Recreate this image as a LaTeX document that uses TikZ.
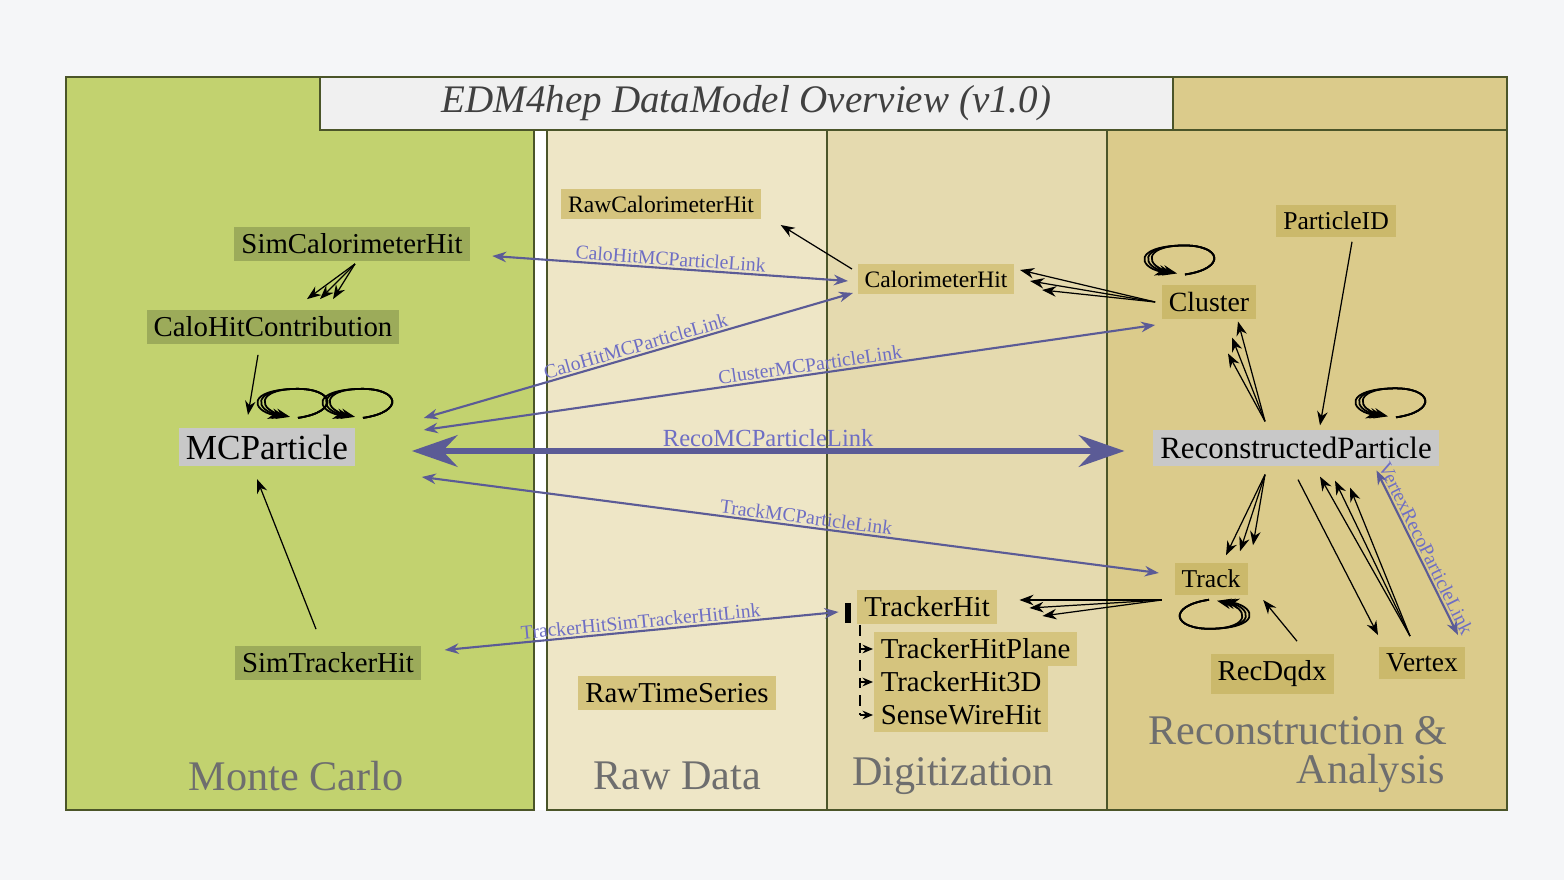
\documentclass[tikz,border=0pt]{standalone}
\usepackage{fontspec}
\setmainfont{Liberation Serif}
\usetikzlibrary{arrows.meta}
\usetikzlibrary{calc}
\usetikzlibrary{positioning}
\definecolor{pagebg}{HTML}{F5F6F8}
\definecolor{mcbg}{HTML}{C2D26F}
\definecolor{rawbg}{HTML}{EEE6C6}
\definecolor{digibg}{HTML}{E5DAAF}
\definecolor{recobg}{HTML}{DBCB8B}
\definecolor{mcfill}{HTML}{9CAB5A}
\definecolor{hitfill}{HTML}{D5C47E}
\definecolor{recofill}{HTML}{CBB96B}
\definecolor{keyfill}{HTML}{C8C8C8}
\definecolor{linkcol}{HTML}{5B5B96}
\definecolor{linktext}{HTML}{6E6EC4}
\definecolor{paneltext}{HTML}{6E6E6E}
\definecolor{framecol}{HTML}{6B7A3A}
\tikzset{
obj/.style={inner sep=2pt, font=\fontsize{7.3}{8}\selectfont},
bigtext/.style={font=\fontsize{8.2}{9}\selectfont},
smalltext/.style={font=\fontsize{6.7}{8}\selectfont},
mcobj/.style={obj, bigtext, fill=mcfill},
hitobj/.style={obj, fill=hitfill},
recoobj/.style={obj, fill=recofill},
keyobj/.style={obj, fill=keyfill, font=\fontsize{10}{11}\selectfont},
rel/.style={-{Stealth[length=4pt,width=3pt]}, line width=0.35pt},
selfrel/.style={-{Stealth[length=4pt,width=3pt]}, line width=0.5pt},
link/.style={{Stealth[length=4pt,width=3pt]}-{Stealth[length=4pt,width=3pt]}, linkcol, line width=0.6pt},
linklabel/.style={text=linktext, font=\fontsize{5.6}{6}\selectfont, sloped, above, inner sep=0.5pt},
panel/.style={text=paneltext, font=\fontsize{12}{13}\selectfont},
}
\begin{document}
\begin{tikzpicture}[x=0.01cm,y=-0.01cm]
  \useasboundingbox (0,0) rectangle (1564,880);
  \fill [pagebg] (0,0) rectangle (1564,880);

  % panels
  \fill [mcbg] (66,77) rectangle (534,810);
  \fill [white] (534,77) rectangle (547,810);
  \fill [rawbg] (547,77) rectangle (827,810);
  \fill [digibg] (827,77) rectangle (1107,810);
  \fill [recobg] (1107,77) rectangle (1507,810);
  \draw [framecol!70!black, line width=0.3pt] (66,77) rectangle (534,810);
  \draw [framecol!70!black, line width=0.3pt] (547,130) rectangle (1507,810);
  \draw [framecol!70!black, line width=0.3pt] (827,130) -- (827,810) (1107,130) -- (1107,810);
  \draw [framecol!70!black, line width=0.3pt] (1173,77) -- (1507,77) -- (1507,130);
  \node [draw=framecol!70!black, fill=gray!12, minimum width=853*0.01cm, minimum height=53*0.01cm,
    inner sep=0pt, font=\fontsize{11.1}{12}\selectfont\itshape, text=black!75] (title) at (746.5,103.5)
    {EDM4hep DataModel Overview (v1.0)};

  \node [panel] (mclabel) at (296,776) {Monte Carlo};
  \node [panel] (rawlabel) at (677,776) {Raw Data};
  \node [panel] (digilabel) at (953,776) {Digitization};
  \node [panel] (recolabel) at (1298,731) {Reconstruction \&};
  \node [panel, anchor=east] (analabel) at (1457,773) {Analysis};

  % Nodes
  \node [mcobj] (simcalo) at (352,244) {SimCalorimeterHit};
  \node [mcobj] (contrib) at (273,327) {CaloHitContribution};
  \node [keyobj] (mcp) at (267,447) {MCParticle};
  \node [mcobj] (simtrk) at (328,663) {SimTrackerHit};
  \node [hitobj, smalltext] (rawcalo) at (661,204) {RawCalorimeterHit};
  \node [hitobj, bigtext] (rawts) at (677,693) {RawTimeSeries};
  \node [hitobj, smalltext] (calo) at (936,279) {CalorimeterHit};
  \node [hitobj, bigtext] (trkhit) at (927,607) {TrackerHit};
  \node [hitobj, bigtext, anchor=west] (plane) at (873,649) {TrackerHitPlane};
  \node [hitobj, bigtext, anchor=west] (hit3d) at (873,682) {TrackerHit3D};
  \node [hitobj, bigtext, anchor=west] (wire) at (873,715) {SenseWireHit};
  \node [recoobj] (pid) at (1336,221) {ParticleID};
  \node [recoobj, font=\fontsize{7.9}{9}\selectfont] (cluster) at (1209,302) {Cluster};
  \node [keyobj, font=\fontsize{8.8}{10}\selectfont] (reco) at (1296,448) {ReconstructedParticle};
  \node [recoobj] (track) at (1211,579) {Track};
  \node [recoobj, bigtext] (dqdx) at (1272,674) {RecDqdx};
  \node [recoobj, font=\fontsize{7.8}{9}\selectfont] (vertex) at (1422,663) {Vertex};

  % links
  \draw [link] ([shift={(22,12)}]simcalo.east) -- node [linklabel] {CaloHitMCParticleLink} ([shift={(-9,2)}]calo.west);
  \draw [link] ([shift={(68,-29)}]mcp.east) -- node [linklabel, pos=0.5] {CaloHitMCParticleLink} ([shift={(-4,14)}]calo.west);
  \draw [link] ([shift={(68,-17)}]mcp.east) -- node [linklabel, pos=0.53] {ClusterMCParticleLink} ([shift={(-6,23)}]cluster.west);
  \draw [linkcol, line width=1.6pt, {Stealth[length=13pt,width=9pt]}-{Stealth[length=13pt,width=9pt]}]
    ([shift={(56,4)}]mcp.east) -- node [linklabel, font=\fontsize{7}{8}\selectfont] {RecoMCParticleLink} ([shift={(-28,3)}]reco.west);
  \draw [link] ([shift={(66,30)}]mcp.east) -- node [linklabel, pos=0.52] {TrackMCParticleLink} ([shift={(-15,-6)}]track.west);
  \draw [link] ([shift={(23,-13)}]simtrk.east) -- node [linklabel] {TrackerHitSimTrackerHitLink} ([shift={(-18,5)}]trkhit.west);
  \draw [link] ([shift={(-63,41)}]reco.north east) -- node [linklabel] {VertexRecoParticleLink} ([shift={(36,-11)}]vertex.north);

  % relations
  \foreach \dx in {34,47,60} {
    \draw [rel] ([shift={(3,2)}]simcalo.south) -- ([shift={(\dx-273+273,-10)}]contrib.north);
  }
  \draw [rel] ([shift={(-15,10)}]contrib.south) -- ([shift={(-19,-12)}]mcp.north);
  \draw [rel] ([shift={(-12,-16)}]simtrk.north) -- ([shift={(-10,12)}]mcp.south);
  \draw [rel] ([shift={(-5,-10)}]calo.west) -- ([shift={(19,21)}]rawcalo.east);
  \foreach \dx/\dy in {5/-9,15/2,27/11} {
    \draw [rel] ([shift={(-6,0)}]cluster.west) -- ([shift={(\dx,\dy)}]calo.east);
  }
  \foreach \dx/\dy in {29/2,23/18,19/34} {
    \draw [rel] ([shift={(-31,-8)}]reco.north) -- ([shift={(\dx,\dy)}]cluster.south);
  }
  \draw [rel] ([shift={(16,4)}]pid.south) -- ([shift={(24,-4)}]reco.north);
  \foreach \dx/\dy in {15/-7,29/-11,42/-17} {
    \draw [rel] ([shift={(-31,8)}]reco.south) -- ([shift={(\dx,\dy)}]track.north);
  }
  \foreach \dx/\dy in {22/-7,32/1,45/9} {
    \draw [rel] ([shift={(-12,21)}]track.west) -- ([shift={(\dx,\dy)}]trkhit.east);
  }
  \draw [rel] ([shift={(25,-12)}]dqdx.north) -- ([shift={(15,21)}]track.east);
  \draw [rel] ([shift={(2,13)}]reco.south) -- ([shift={(-44,-11)}]vertex.north);
  \foreach \dx/\dy in {24/10,39/14,54/21} {
    \draw [rel] ([shift={(-12,-10)}]vertex.north) -- ([shift={(\dx,\dy)}]reco.south);
  }

  % self loops
  \foreach \n/\sx/\sy/\s in {mcp.north/28/-23/1, mcp.north/93/-23/1, cluster.north/-27/-24/1,
                            reco.north/97/-26/1, track.south/1/18/-1} {
    \foreach \d in {0,4,8} {
      \draw [selfrel] ([shift={(\sx+3*\s,\sy+14*\s)}]\n)
        .. controls ([shift={(\sx+45*\s,\sy+8*\s)}]\n) and ([shift={(\sx+40*\s,\sy-16*\s)}]\n)
        .. ([shift={(\sx,\sy-15*\s)}]\n)
        .. controls ([shift={(\sx-40*\s-\d*\s,\sy-14*\s)}]\n) and ([shift={(\sx-36*\s-\d*\s,\sy+6*\s)}]\n)
        .. ([shift={(\sx-5*\s-\d*\s,\sy+13*\s)}]\n);
    }
  }

  % TrackerHit subclasses
  \fill [black] ([shift={(-12,-4)}]trkhit.west) rectangle ([shift={(-6,16)}]trkhit.west);
  \draw [densely dashed, line width=0.35pt] ([shift={(-13,-24)}]plane.west) -- ([shift={(-13,0)}]wire.west);
  \foreach \n in {plane,hit3d,wire} {
    \draw [line width=0.35pt, -{Stealth[length=3pt,width=2.5pt]}] ([shift={(-13,0)}]\n.west) -- (\n.west);
  }
\end{tikzpicture}
\end{document}
